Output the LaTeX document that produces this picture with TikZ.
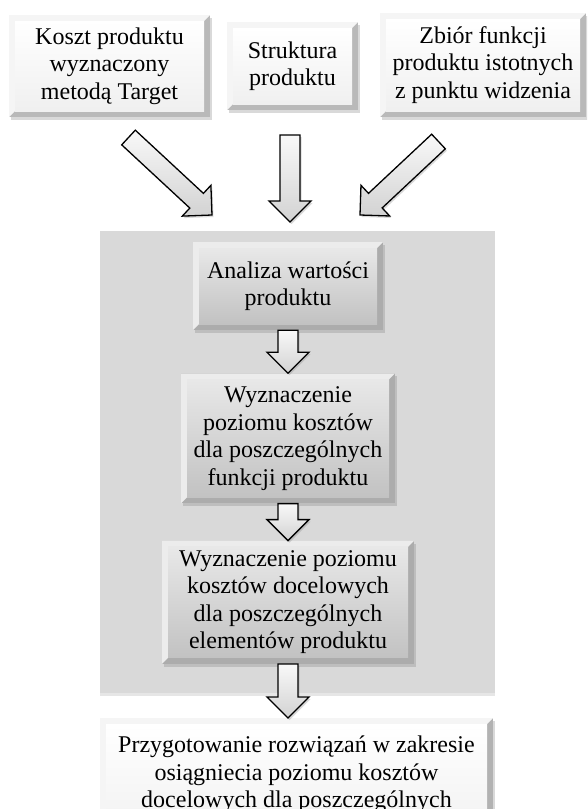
\documentclass[tikz,border=0pt]{standalone}
\usepackage{fontspec}
\setmainfont{Liberation Serif}
\usepackage{xcolor}
\definecolor{panelgray}{rgb}{0.85, 0.85, 0.85}
\usepackage{tikz}
\usetikzlibrary{positioning,calc,shadows}
\tikzset{
  bevel/.style n args={4}{fill=#1,
    path picture={
      \fill[#2] (path picture bounding box.south west) -- (path picture bounding box.north west)
        -- (path picture bounding box.north east) -- ([shift={(-6pt,-6pt)}]path picture bounding box.north east)
        -- ([shift={(6pt,-6pt)}]path picture bounding box.north west)
        -- ([shift={(6pt,6pt)}]path picture bounding box.south west) -- cycle;
      \fill[top color=#3,bottom color=#4] ([shift={(6pt,-6pt)}]path picture bounding box.north west)
        rectangle ([shift={(-6pt,6pt)}]path picture bounding box.south east);
    }},
  card/.style={rectangle,inner sep=0pt,align=center,font=\fontsize{24}{27.5}\selectfont,
    drop shadow={shadow xshift=1.5pt,shadow yshift=-3pt,opacity=0.3}},
  source/.style={card,bevel={gray!55}{gray!8}{white}{gray!12}},
  stage/.style={card,bevel={gray!65}{gray!15}{gray!18}{gray!48}},
  outcome/.style={card,bevel={gray!60}{gray!8}{white}{gray!10}},
  panel/.style={rectangle,fill=panelgray,drop shadow={shadow xshift=0pt,shadow yshift=-3pt,opacity=0.2}},
  flow/.style={draw=black,line width=1.3pt,line join=miter,top color=gray!5,bottom color=gray!35,
    drop shadow={shadow xshift=1.5pt,shadow yshift=-2pt,opacity=0.3}}
}
\newcommand{\blockarrow}[2]{%
  \path ($(#2)!21pt!(#1)$) coordinate (headbase);
  \draw[flow] ($(#1)!10pt!90:(#2)$) -- ($(headbase)!10pt!90:(#2)$)
    -- ($(headbase)!21pt!90:(#2)$) -- (#2) -- ($(headbase)!21pt!-90:(#2)$)
    -- ($(headbase)!10pt!-90:(#2)$) -- ($(#1)!10pt!-90:(#2)$) -- cycle;}

\begin{document}
\begin{tikzpicture}[x=1pt,y=-1pt]
  \useasboundingbox (0,0) rectangle (587,809);
  \clip (0,0) rectangle (587,809);

  % Inputs
  \node[source,minimum width=201pt,minimum height=102pt] (cost) at (109.5,66) {Koszt produktu\\wyznaczony\\metodą Target};
  \node[source,minimum width=131pt,minimum height=88pt] (structure) at (292.5,66) {Struktura\\produktu};
  \node[source,minimum width=206pt,minimum height=104pt] (functions) at (483,65) {Zbiór funkcji\\produktu istotnych\\z punktu widzenia};

  % Gray panel with the steps
  \node[panel,minimum width=395pt,minimum height=462pt] (panel) at (297.5,462) {};
  \node[stage,minimum width=190pt,minimum height=88pt] (analysis) at (288,286) {Analiza wartości\\produktu};
  \node[stage,minimum width=214pt,minimum height=130pt,below=43pt of analysis] (levels) {Wyznaczenie\\poziomu kosztów\\dla poszczególnych\\funkcji produktu};
  \node[stage,minimum width=252pt,minimum height=123pt,below=37pt of levels] (targets) {Wyznaczenie poziomu\\kosztów docelowych\\dla poszczególnych\\elementów produktu};

  % Result
  \node[outcome,minimum width=393pt,minimum height=113pt,below=54pt of targets,xshift=8.5pt] (solutions) {Przygotowanie rozwiązań w zakresie\\osiągniecia poziomu kosztów\\docelowych dla poszczególnych};

  % Arrows
  \coordinate (cost-tail) at (128.5,137.5);
  \coordinate (cost-tip) at (212,215);
  \coordinate (structure-tail) at (290,135);
  \coordinate (structure-tip) at (290,222);
  \coordinate (functions-tail) at (438.5,141.5);
  \coordinate (functions-tip) at (360,215);
  \blockarrow{cost-tail}{cost-tip}
  \blockarrow{structure-tail}{structure-tip}
  \blockarrow{functions-tail}{functions-tip}
  \blockarrow{analysis.south}{analysis.south |- levels.north}
  \blockarrow{levels.south}{levels.south |- targets.north}
  \blockarrow{targets.south}{targets.south |- solutions.north}
\end{tikzpicture}
\end{document}
